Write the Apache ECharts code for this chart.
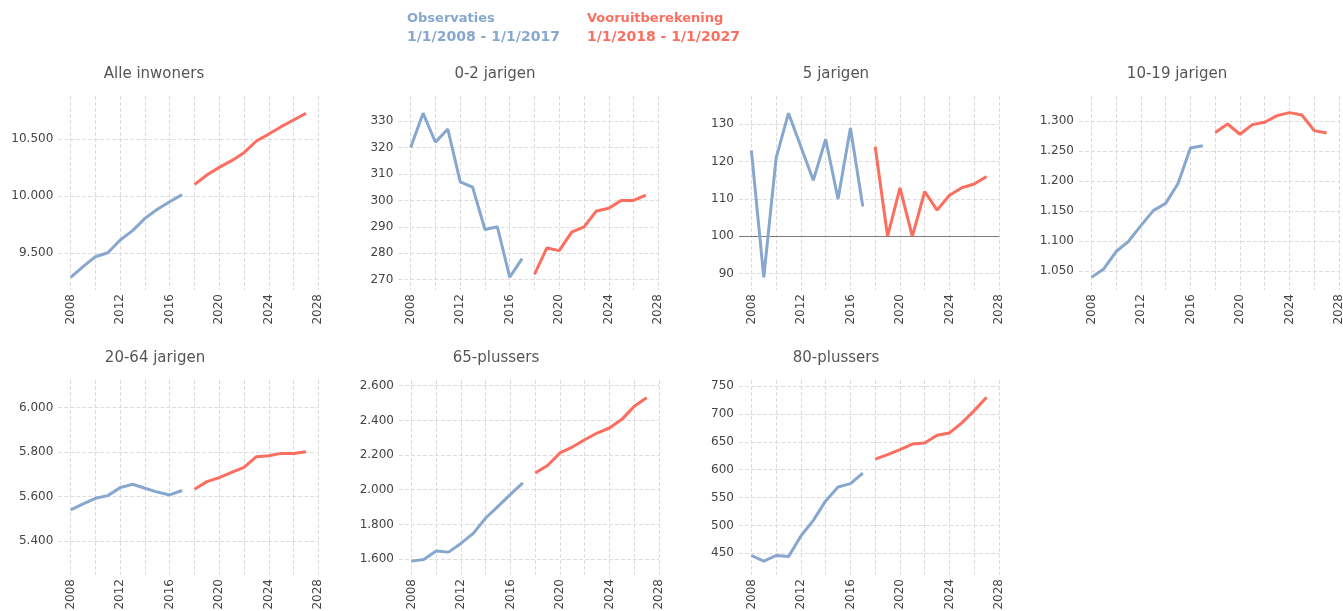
<!DOCTYPE html>
<html>
<head>
<meta charset="utf-8">
<script src="https://cdn.jsdelivr.net/npm/echarts@6/dist/echarts.min.js"></script>
<style>
html, body { margin: 0; padding: 0; background: #fff; }
#chart { width: 1343px; height: 611px; }
</style>
</head>
<body>
<div id="chart"></div>
<script>
// jaren
const obsYears = [2008, 2009, 2010, 2011, 2012, 2013, 2014, 2015, 2016, 2017];
const projYears = [2018, 2019, 2020, 2021, 2022, 2023, 2024, 2025, 2026, 2027];
const xTicks = [2008, 2010, 2012, 2014, 2016, 2018, 2020, 2022, 2024, 2026, 2028];
const xLabels = [2008, 2012, 2016, 2020, 2024, 2028];

const panelTitles = ['Alle inwoners', '0-2 jarigen', '5 jarigen', '10-19 jarigen', '20-64 jarigen', '65-plussers', '80-plussers'];

// observaties / vooruitberekening per groep
const allesObs = [9285, 9378, 9466, 9501, 9613, 9695, 9803, 9883, 9950, 10012];
const allesProj = [10100, 10185, 10252, 10311, 10381, 10484, 10545, 10610, 10669, 10727];
const nulTweeObs = [320, 333, 322, 327, 307, 305, 289, 290, 271, 278];
const nulTweeProj = [272, 282, 281, 288, 290, 296, 297, 300, 300, 302];
const vijfObs = [123, 89, 121, 133, 124, 115, 126, 110, 129, 108];
const vijfProj = [124, 100, 113, 100, 112, 107, 111, 113, 114, 116];
const tienObs = [1040, 1054, 1083, 1100, 1126, 1151, 1163, 1196, 1255, 1259];
const tienProj = [1281, 1295, 1278, 1294, 1298, 1309, 1314, 1310, 1284, 1280];
const twintigObs = [5540, 5567, 5592, 5604, 5640, 5655, 5637, 5620, 5607, 5627];
const twintigProj = [5633, 5667, 5685, 5709, 5731, 5779, 5783, 5794, 5793, 5801];
const plus65Obs = [1588, 1598, 1646, 1640, 1690, 1748, 1837, 1904, 1973, 2040];
const plus65Proj = [2096, 2140, 2212, 2246, 2288, 2327, 2356, 2406, 2481, 2531];
const plus80Obs = [446, 436, 446, 444, 481, 509, 544, 569, 575, 594];
const plus80Proj = [619, 627, 636, 646, 648, 662, 666, 684, 706, 730];

// y-as ticks
const allesTicks = [9500, 10000, 10500];
const nulTweeTicks = [270, 280, 290, 300, 310, 320, 330];
const vijfTicks = [90, 100, 110, 120, 130];
const tienTicks = [1050, 1100, 1150, 1200, 1250, 1300];
const twintigTicks = [5400, 5600, 5800, 6000];
const plus65Ticks = [1600, 1800, 2000, 2200, 2400, 2600];
const plus80Ticks = [450, 500, 550, 600, 650, 700, 750];

const panels = [
	{ obs: allesObs, proj: allesProj, ticks: allesTicks, min: 9173, max: 10880 },
	{ obs: nulTweeObs, proj: nulTweeProj, ticks: nulTweeTicks, min: 266.1, max: 339.5 },
	{ obs: vijfObs, proj: vijfProj, ticks: vijfTicks, min: 85.6, max: 137.6, refLine: 100 },
	{ obs: tienObs, proj: tienProj, ticks: tienTicks, min: 1019, max: 1341.6 },
	{ obs: twintigObs, proj: twintigProj, ticks: twintigTicks, min: 5247, max: 6124 },
	{ obs: plus65Obs, proj: plus65Proj, ticks: plus65Ticks, min: 1508, max: 2633 },
	{ obs: plus80Obs, proj: plus80Proj, ticks: plus80Ticks, min: 411, max: 761 },
];

// layout
const gridPos = [
	{ left: 58.3, top: 96 }, { left: 398.3, top: 96 }, { left: 739, top: 96 }, { left: 1079, top: 96 },
	{ left: 58.3, top: 380 }, { left: 399, top: 380 }, { left: 739, top: 380 },
];
const titlePos = [[154, 74], [495, 74], [836, 74], [1177, 74], [155, 358], [496, 358], [836, 358]];

const blue = '#88a7cf';
const red = '#fc6e5f';
const gridColor = '#dddddd';

const fmt = (v) => String(v).replace(/\B(?=(\d{3})+(?!\d))/g, '.');

const myChart = echarts.init(document.getElementById('chart'));

const option = {
	animation: false,
	grid: gridPos.map((p, i) => ({
		left: p.left,
		top: p.top,
		width: 260,
		height: i < 4 ? 194 : 195,
		containLabel: false,
		outerBoundsMode: 'none',
	})),
	xAxis: panels.map((p, i) => ({
		type: 'value',
		gridIndex: i,
		min: 2007,
		max: 2028,
		axisLine: { show: false },
		axisTick: { show: false, customValues: xTicks },
		axisLabel: {
			customValues: xLabels,
			rotate: 90,
			margin: 4,
			fontSize: 12,
			fontFamily: 'DejaVu Sans',
			color: '#444',
			formatter: (v) => String(v),
		},
		splitLine: { show: true, lineStyle: { color: gridColor, type: 'dashed', width: 1 } },
	})),
	yAxis: panels.map((p, i) => ({
		type: 'value',
		gridIndex: i,
		min: p.min,
		max: p.max,
		axisLine: { show: false },
		axisTick: { show: false, customValues: p.ticks },
		axisLabel: {
			customValues: p.ticks,
			margin: 5,
			fontSize: 12,
			fontFamily: 'DejaVu Sans',
			color: '#444',
			formatter: fmt,
		},
		splitLine: { show: true, lineStyle: { color: gridColor, type: 'dashed', width: 1 } },
	})),
	series: panels.flatMap((p, i) => {
		const obsSeries = {
			type: 'line',
			xAxisIndex: i,
			yAxisIndex: i,
			data: obsYears.map((y, k) => [y, p.obs[k]]),
			showSymbol: false,
			silent: true,
			lineStyle: { color: blue, width: 3 },
			z: 3,
		};
		if (p.refLine !== undefined) {
			obsSeries.markLine = {
				silent: true,
				symbol: 'none',
				label: { show: false },
				lineStyle: { color: '#7a7a7a', type: 'solid', width: 1 },
				data: [{ yAxis: p.refLine }],
				z: 2,
			};
		}
		return [
			obsSeries,
			{
				type: 'line',
				xAxisIndex: i,
				yAxisIndex: i,
				data: projYears.map((y, k) => [y, p.proj[k]]),
				showSymbol: false,
				silent: true,
				lineStyle: { color: red, width: 3 },
				z: 3,
			},
		];
	}),
	graphic: [
		...panelTitles.map((t, i) => ({
			type: 'text',
			x: titlePos[i][0],
			y: titlePos[i][1],
			style: {
				text: t,
				font: '15px "DejaVu Sans"',
				fill: '#555',
				textAlign: 'center',
				textVerticalAlign: 'middle',
			},
		})),
		{ type: 'text', x: 407, y: 19, style: { text: 'Observaties', font: 'bold 13px "DejaVu Sans"', fill: blue, textVerticalAlign: 'middle' } },
		{ type: 'text', x: 407, y: 37, style: { text: '1/1/2008 - 1/1/2017', font: 'bold 14px "DejaVu Sans"', fill: blue, textVerticalAlign: 'middle' } },
		{ type: 'text', x: 587, y: 19, style: { text: 'Vooruitberekening', font: 'bold 13px "DejaVu Sans"', fill: red, textVerticalAlign: 'middle' } },
		{ type: 'text', x: 587, y: 37, style: { text: '1/1/2018 - 1/1/2027', font: 'bold 14px "DejaVu Sans"', fill: red, textVerticalAlign: 'middle' } },
	],
};

myChart.setOption(option);
window.onresize = function () {
	myChart.resize();
};
</script>
</body>
</html>
